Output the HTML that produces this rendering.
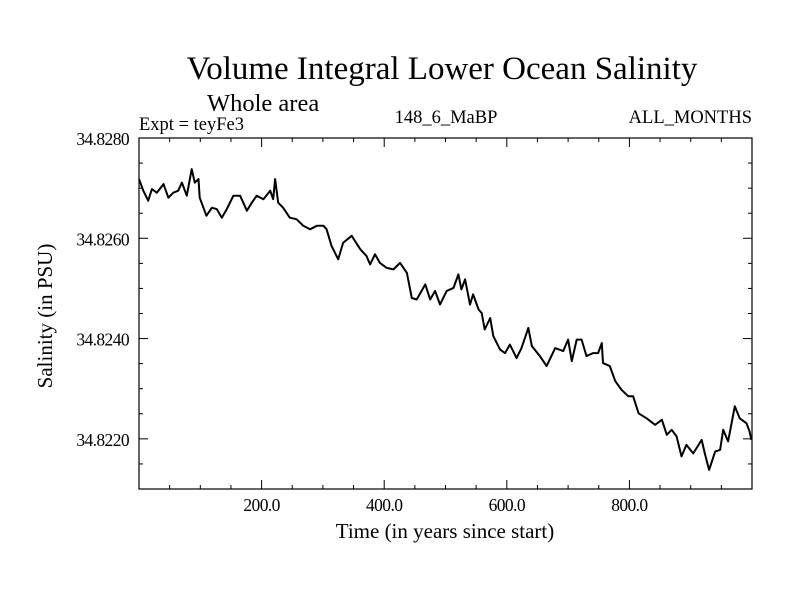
<!DOCTYPE html>
<html><head><meta charset="utf-8"><style>
html,body{margin:0;padding:0;background:#fff;}
svg{display:block;font-family:"Liberation Serif",serif;}
</style></head><body>
<svg id="chart" width="800" height="600" viewBox="0 0 800 600">
<text x="442" y="79" font-size="33" text-anchor="middle">Volume Integral Lower Ocean Salinity</text>
<text x="207" y="111" font-size="24.5">Whole area</text>
<text x="139" y="130" font-size="18.5">Expt = teyFe3</text>
<text x="446" y="123" font-size="18.5" text-anchor="middle">148_6_MaBP</text>
<text x="752" y="123" font-size="18.5" text-anchor="end">ALL_MONTHS</text>
<text x="445" y="538" font-size="21" text-anchor="middle">Time (in years since start)</text>
<text transform="translate(52,316) rotate(-90)" font-size="21" text-anchor="middle">Salinity (in PSU)</text>
<rect x="139" y="138" width="613" height="351" fill="none" stroke="#000" stroke-width="1.2"/>
<g id="ticks"></g>
<path id="line" fill="none" stroke="#000" stroke-width="2" stroke-linejoin="round"/>
</svg>
<script>
const years = [0,7,15,21,29,40,48,56,64,70,78,86,91,97,99,110,119,127,135,143,154,165,176,184,192,203,214,219,222,227,235,246,257,268,279,290,301,306,314,325,333,347,361,371,377,385,393,404,415,426,437,445,453,467,475,483,491,502,513,521,526,532,540,545,554,559,564,573,578,589,597,605,616,624,635,641,654,665,679,692,700,706,714,722,730,741,749,755,757,768,777,787,798,806,815,828,842,853,861,869,877,885,893,904,918,923,930,940,948,953,961,972,980,991,996,999];
const salinity = [34.82718,34.82695,34.82675,34.82698,34.82691,34.82708,34.82681,34.82691,34.82695,34.82711,34.82685,34.82738,34.82711,34.82718,34.82681,34.82645,34.82661,34.82658,34.82641,34.82658,34.82685,34.82685,34.82655,34.82671,34.82685,34.82678,34.82695,34.82678,34.82718,34.82671,34.82661,34.82641,34.82638,34.82625,34.82618,34.82625,34.82625,34.82618,34.82585,34.82558,34.82591,34.82605,34.82578,34.82565,34.82548,34.82568,34.82551,34.82541,34.82538,34.82551,34.82531,34.82481,34.82478,34.82508,34.82478,34.82495,34.82468,34.82495,34.82501,34.82528,34.82498,34.82518,34.82468,34.82488,34.82458,34.82451,34.82418,34.82441,34.82405,34.82378,34.82371,34.82388,34.82361,34.82381,34.82421,34.82385,34.82365,34.82345,34.82381,34.82375,34.82398,34.82355,34.82398,34.82398,34.82365,34.82371,34.82371,34.82391,34.82351,34.82345,34.82315,34.82298,34.82285,34.82285,34.82251,34.82241,34.82228,34.82238,34.82208,34.82218,34.82205,34.82165,34.82188,34.82171,34.82198,34.82171,34.82138,34.82175,34.82178,34.82218,34.82195,34.82265,34.82241,34.82231,34.82215,34.82198];
const xTickValues = [200,400,600,800];
const xTickLabels = ["200.0","400.0","600.0","800.0"];
const yTickValues = [34.828,34.826,34.824,34.822];
const yTickLabels = ["34.8280","34.8260","34.8240","34.8220"];

const X0=139,X1=752,Y0=138,Y1=489;
const xMin=0,xMax=1000,yMin=34.821,yMax=34.828;
function sx(v){return X0+(v-xMin)/(xMax-xMin)*(X1-X0);}
function sy(v){return Y1-(v-yMin)/(yMax-yMin)*(Y1-Y0);}
const NS="http://www.w3.org/2000/svg";
const g=document.getElementById('ticks');
function line(x1,y1,x2,y2,name){
  const l=document.createElementNS(NS,'line');
  l.setAttribute('x1',x1);l.setAttribute('y1',y1);l.setAttribute('x2',x2);l.setAttribute('y2',y2);
  l.setAttribute('stroke','#000');l.setAttribute('stroke-width','1');
  
  
  g.appendChild(l);
}
function text(x,y,s,anchor,name){
  const t=document.createElementNS(NS,'text');
  t.setAttribute('x',x);t.setAttribute('y',y);t.setAttribute('font-size','17.5');t.setAttribute('text-anchor',anchor);
  t.setAttribute('letter-spacing','-0.6');
  t.textContent=s;
  
  
  document.getElementById('chart').appendChild(t);
}
for(let v=xMin+50;v<xMax;v+=50){
  const major=v%200===0, L=major?9:4, x=sx(v);
  line(x,Y1,x,Y1-L,'x-tick');
  line(x,Y0,x,Y0+L,'x-tick-top');
}
for(let k=1;k<14;k++){
  const v=yMin+k*0.0005, major=(k%4===2), L=major?9:4, y=sy(v);
  line(X0,y,X0+L,y,'y-tick');
  line(X1,y,X1-L,y,'y-tick-right');
}
xTickValues.forEach((v,i)=>text(sx(v),511,xTickLabels[i],'middle','x-tick-label'));
yTickValues.forEach((v,i)=>text(129,sy(v)+7,yTickLabels[i],'end','y-tick-label'));
let d='';
years.forEach((yr,i)=>{d+=(i?'L':'M')+sx(yr).toFixed(1)+' '+sy(salinity[i]).toFixed(1);});
document.getElementById('line').setAttribute('d',d);
</script>
</body></html>
